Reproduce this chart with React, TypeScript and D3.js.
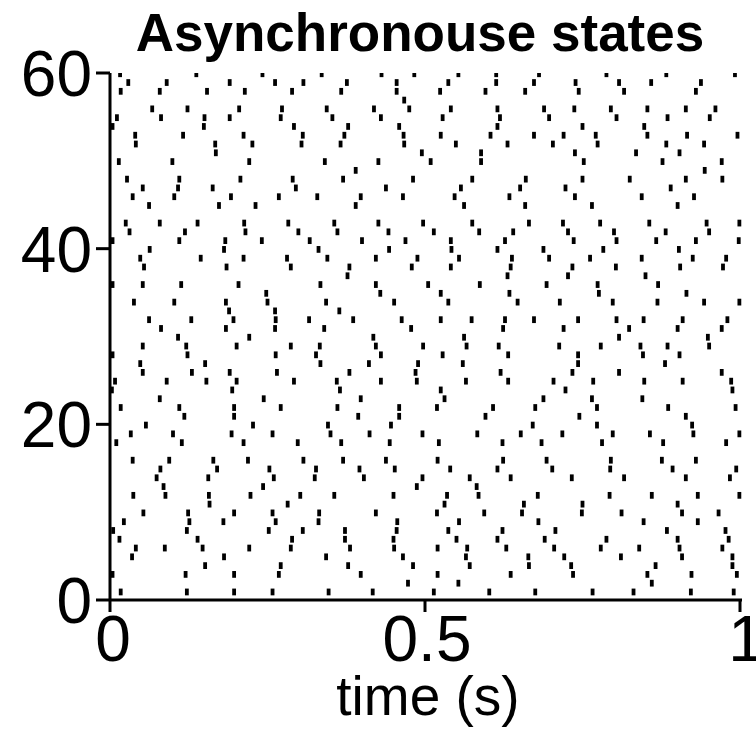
import React from "react";
import * as d3 from "d3";

// spike times (ms) for neurons 1..60 (index 0 = neuron 1)
const spikeTrainsMs: number[][] = [
  [17,122,197,258,347,417,514,602,675,766,831,922,990],
  [473,553,860],
  [4,120,197,268,398,520,636,735,853,923,995],
  [151,271,378,481,571,665,732,866,988],
  [35,181,343,465,565,664,721,811,908,988],
  [41,87,147,221,287,381,451,520,567,629,705,779,840,904,972],
  [15,139,289,373,450,550,615,690,788,901,982],
  [5,122,252,306,373,455,537,623,707,884,977],
  [22,126,180,263,331,456,554,680,847,933],
  [53,124,197,258,332,422,519,594,654,749,812,908,966],
  [158,282,531,657,750,901],
  [37,88,157,223,302,356,450,535,585,679,793,860,933,999],
  [85,243,487,582],
  [74,156,260,325,403,496,571,636,733,816,914,984],
  [80,170,253,327,396,452,540,615,702,794,893,994],
  [36,94,164,219,307,370,438,520,624,693,795,876,930],
  [],
  [10,114,212,298,367,444,522,623,685,781,878,978],
  [33,100,193,258,350,412,496,583,652,718,798,857,926,999],
  [57,227,346,446,671,773,924],
  [118,197,394,459,596,745,914],
  [17,110,197,271,361,459,519,608,675,773,886,993],
  [79,244,398,531,688,765,845],
  [3,194,365,525,723,988],
  [8,90,153,201,292,360,430,487,565,632,704,767,848,909,986],
  [52,130,190,265,380,485,620,734,808,971],
  [48,151,334,411,489,560,743,881],
  [4,123,263,327,430,528,632,743,846,904],
  [52,121,201,287,333,422,497,566,617,713,779,842,885,951],
  [108,221,418,562,808,949],
  [81,184,262,340,478,624,720,824,901,971],
  [62,129,196,263,316,386,463,525,574,627,673,743,804,847,909,980],
  [189,262,364],
  [38,102,184,250,343,451,537,647,714,798,869,943,999],
  [248,429,525,634,776,915],
  [4,52,113,204,334,422,505,587,693,774,870],
  [377,631,727,850],
  [54,185,287,380,479,541,636,734,803,905,973],
  [48,144,212,281,345,422,488,554,638,697,762,844,925,978],
  [63,181,331,443,542,615,688,783,903],
  [4,110,183,241,317,400,469,541,627,736,804,867,930,998],
  [31,119,215,299,361,442,514,586,640,727,800,882,951],
  [25,79,139,213,283,356,426,497,575,665,719,778,856,947,999],
  [],
  [62,173,231,390,562,659,765,901],
  [36,102,192,268,329,398,465,547,634,738,844,927],
  [52,108,163,295,438,557,651,723,890],
  [27,110,207,290,370,481,575,660,750,825,914,972],
  [390,944],
  [14,99,221,341,426,509,589,752,877,971],
  [168,495,589,738,835,904],
  [41,167,226,304,366,467,549,631,703,774,883,943],
  [40,116,212,306,372,466,525,604,673,720,771,853,916,996],
  [4,149,292,378,459,615,750,848],
  [11,81,150,190,271,353,430,528,619,697,804,885,952],
  [67,123,205,273,344,419,475,541,615,689,737,795,853,914,961],
  [467],
  [17,79,154,214,289,367,455,524,596,659,744,816,930],
  [29,90,190,262,307,376,455,537,613,673,739,808,859,938],
  [16,137,242,336,431,483,553,613,681,788,883,992],
];

const xTicks = [0, 0.5, 1];
const xTickLabels = ["0", "0.5", "1"];
const yTicks = [0, 20, 40, 60];
const title = "Asynchronouse states";
const xLabel = "time (s)";

const W = 756;
const H = 739;
const FONT = "'Liberation Sans', Arial, Helvetica, sans-serif";

export default function App() {
  const x = d3.scaleLinear().domain([0, 1]).range([110, 740]);
  const y = d3.scaleLinear().domain([0, 60]).range([600, 73]);

  const marks: { t: number; n: number }[] = [];
  spikeTrainsMs.forEach((train, i) => {
    train.forEach((ms) => marks.push({ t: ms / 1000, n: i + 1 }));
  });

  const markW = 3.8;
  return (
    <svg
      width={W}
      height={H}
      style={{ position: "absolute", left: 0, top: 0, background: "#fff" }}
    >
      <defs>
        <clipPath id="plotClip">
          <rect x={x(0) - 10} y={y(60)} width={x(1) - x(0) + 20} height={y(0) - y(60)} />
        </clipPath>
      </defs>
      <text
        x={420}
        y={51}
        textAnchor="middle"
        fontFamily={FONT}
        fontWeight="bold"
        fontSize={53}
        fill="#000"
      >
        {title}
      </text>
      <g clipPath="url(#plotClip)">
        {marks.map((m, i) => {
          const top = y(Math.min(60, m.n + 0.3));
          const bot = y(m.n - 0.47);
          return (
            <rect
              key={i}
              x={x(m.t) - markW / 2}
              y={top}
              width={markW}
              height={bot - top}
              fill="#000"
            />
          );
        })}
      </g>
      {/* y axis */}
      <line x1={x(0)} x2={x(0)} y1={y(0)} y2={y(60)} stroke="#000" strokeWidth={3} />
      {yTicks.map((v) => (
        <g key={"y" + v}>
          <line x1={x(0) - 14} x2={x(0)} y1={y(v)} y2={y(v)} stroke="#000" strokeWidth={3} />
          <text
            x={92}
            y={y(v)}
            dy="0.36em"
            textAnchor="end"
            fontFamily={FONT}
            fontSize={64}
            fill="#000"
          >
            {v}
          </text>
        </g>
      ))}
      {/* x axis */}
      <line x1={x(0)} x2={x(1) + 2} y1={y(0)} y2={y(0)} stroke="#000" strokeWidth={3} />
      {xTicks.map((v, i) => (
        <g key={"x" + v}>
          <line x1={x(v)} x2={x(v)} y1={y(0)} y2={y(0) + 12} stroke="#000" strokeWidth={3} />
          <text
            x={x(v) + (i === 0 ? 3 : i === 1 ? 2 : 6)}
            y={661}
            textAnchor="middle"
            fontFamily={FONT}
            fontSize={64}
            fill="#000"
          >
            {xTickLabels[i]}
          </text>
        </g>
      ))}
      <text
        x={428}
        y={715}
        textAnchor="middle"
        fontFamily={FONT}
        fontSize={55}
        fill="#000"
      >
        {xLabel}
      </text>
    </svg>
  );
}
